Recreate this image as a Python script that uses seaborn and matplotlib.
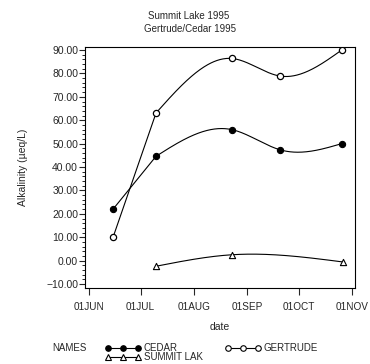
import numpy as np
import pandas as pd
import matplotlib
matplotlib.use("Agg")
import matplotlib.pyplot as plt
import matplotlib.dates as mdates
from matplotlib.ticker import FuncFormatter, MultipleLocator
from matplotlib.lines import Line2D
import seaborn as sns

sns.set_style("white")
plt.rcParams['font.family'] = ['Liberation Sans', 'DejaVu Sans']

# ---- data ----
cedar_dates = ["1995-06-15", "1995-07-10", "1995-08-23", "1995-09-20", "1995-10-26"]
cedar_vals = [22.0, 44.6, 56.0, 47.4, 50.0]
gertrude_dates = ["1995-06-15", "1995-07-10", "1995-08-23", "1995-09-20", "1995-10-26"]
gertrude_vals = [10.0, 63.1, 86.4, 78.9, 90.0]
summit_dates = ["1995-07-10", "1995-08-23", "1995-10-27"]
summit_vals = [-2.4, 2.5, -0.6]
names = ["CEDAR", "GERTRUDE", "SUMMIT LAK"]
month_ticks = ["1995-06-01", "1995-07-01", "1995-08-01", "1995-09-01", "1995-10-01", "1995-11-01"]
y_ticks = [-10, 0, 10, 20, 30, 40, 50, 60, 70, 80, 90]

df = pd.concat([
    pd.DataFrame({"date": pd.to_datetime(cedar_dates), "alk": cedar_vals, "NAMES": names[0]}),
    pd.DataFrame({"date": pd.to_datetime(gertrude_dates), "alk": gertrude_vals, "NAMES": names[1]}),
    pd.DataFrame({"date": pd.to_datetime(summit_dates), "alk": summit_vals, "NAMES": names[2]}),
], ignore_index=True)


def natural_spline(x, y, xs):
    x = np.asarray(x, float); y = np.asarray(y, float)
    n = len(x); h = np.diff(x)
    A = np.zeros((n, n)); b = np.zeros(n)
    A[0, 0] = 1; A[-1, -1] = 1
    for i in range(1, n - 1):
        A[i, i - 1] = h[i - 1]; A[i, i] = 2 * (h[i - 1] + h[i]); A[i, i + 1] = h[i]
        b[i] = 3 * ((y[i + 1] - y[i]) / h[i] - (y[i] - y[i - 1]) / h[i - 1])
    c = np.linalg.solve(A, b)
    out = np.empty_like(xs)
    for k, xv in enumerate(xs):
        i = min(max(np.searchsorted(x, xv) - 1, 0), n - 2)
        t = xv - x[i]
        bi = (y[i + 1] - y[i]) / h[i] - h[i] * (2 * c[i] + c[i + 1]) / 3
        di = (c[i + 1] - c[i]) / (3 * h[i])
        out[k] = y[i] + bi * t + c[i] * t ** 2 + di * t ** 3
    return out


fig = plt.figure(figsize=(3.7, 3.64), dpi=100)
ax = fig.add_axes([85 / 370, 1 - 288 / 364, 270 / 370, 241 / 364])

lw = 0.8
# curves
for nm, straight_first in [("CEDAR", True), ("GERTRUDE", True), ("SUMMIT LAK", False)]:
    sub = df[df.NAMES == nm]
    xn = mdates.date2num(sub["date"])
    yv = sub["alk"].values
    if straight_first:
        ax.plot(xn[:2], yv[:2], color="black", lw=lw)
        xs, ys = xn[1:], yv[1:]
    else:
        xs, ys = xn, yv
    xx = np.linspace(xs[0], xs[-1], 300)
    ax.plot(xx, natural_spline(xs, ys, xx), color="black", lw=lw)

# markers
ms = 20
sub = df[df.NAMES == "CEDAR"]
sns.scatterplot(x=mdates.date2num(sub["date"]), y=sub["alk"], ax=ax, marker="o", s=ms,
                color="black", edgecolor="black", linewidth=0.8, zorder=5)
sub = df[df.NAMES == "GERTRUDE"]
sns.scatterplot(x=mdates.date2num(sub["date"]), y=sub["alk"], ax=ax, marker="o", s=ms,
                facecolor="white", edgecolor="black", linewidth=0.9, zorder=5)
sub = df[df.NAMES == "SUMMIT LAK"]
sns.scatterplot(x=mdates.date2num(sub["date"]), y=sub["alk"], ax=ax, marker="^", s=ms,
                facecolor="white", edgecolor="black", linewidth=0.8, zorder=5)

# axes
jun1 = mdates.date2num(pd.Timestamp(month_ticks[0]))
nov1 = mdates.date2num(pd.Timestamp(month_ticks[-1]))
ax.set_xlim(jun1 - 2.33, nov1 + 1.75)
ax.set_ylim(-11.7, 91.3)
ax.set_xticks(mdates.date2num(pd.to_datetime(month_ticks)))
ax.xaxis.set_major_formatter(FuncFormatter(lambda v, p: mdates.num2date(v).strftime("%d%b").upper()))
ax.set_yticks(y_ticks)
ax.yaxis.set_minor_locator(MultipleLocator(2))
ax.yaxis.set_major_formatter(FuncFormatter(lambda v, p: f"{v:.2f}".replace("-", "\u2212")))
ax.tick_params(axis="y", which="major", direction="out", length=4, width=0.8, pad=1, labelsize=7.5, left=True)
ax.tick_params(axis="y", which="minor", direction="out", length=2, width=0.7, left=True)
ax.tick_params(axis="x", which="major", direction="out", length=5, width=0.8, pad=5, labelsize=7.2, bottom=True)
for s in ax.spines.values():
    s.set_linewidth(0.8)
    s.set_color("black")
ax.set_xlabel("")
ax.set_ylabel("")

fig.text(23 / 370, 1 - 167 / 364, "Alkalinity (\u00b5eq/L)", rotation=90, ha="center", va="center", fontsize=7.5)
fig.text(220 / 370, 1 - 327 / 364, "date", ha="center", va="center", fontsize=7.5)
fig.text(189 / 370, 1 - 16 / 364, "Summit Lake 1995", ha="center", va="center", fontsize=7)
fig.text(190 / 370, 1 - 29 / 364, "Gertrude/Cedar 1995", ha="center", va="center", fontsize=7)

# legend (manual)
def legend_entry(x0, y, marker, fc, label):
    yf = 1 - y / 364
    xs = np.array([x0, x0 + 15, x0 + 30]) / 370
    fig.add_artist(Line2D(xs, [yf] * 3, transform=fig.transFigure, color="black", lw=lw,
                          marker=marker, markersize=4, markerfacecolor=fc, markeredgecolor="black",
                          markeredgewidth=0.8))
    fig.text((x0 + 36) / 370, yf, label, ha="left", va="center", fontsize=7)

fig.text(52 / 370, 1 - 348 / 364, "NAMES", ha="left", va="center", fontsize=7)
legend_entry(108, 348, "o", "black", "CEDAR")
legend_entry(228, 348, "o", "white", "GERTRUDE")
legend_entry(108, 357, "^", "white", "SUMMIT LAK")

fig.savefig("out.png", dpi=100)
